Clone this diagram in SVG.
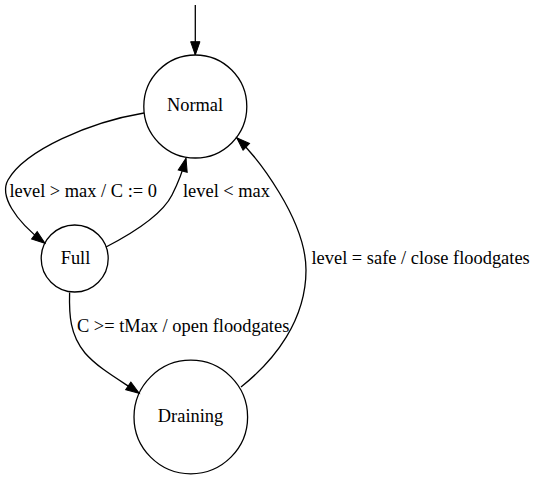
<svg xmlns="http://www.w3.org/2000/svg" width="534" height="478" viewBox="0 0 534 478">
<style>
.node circle{fill:none;stroke:#000;stroke-width:1.3}
.edge{fill:none;stroke:#000;stroke-width:1.3;marker-end:url(#arr)}
.c{text-anchor:middle}
</style>
<defs>
<marker id="arr" markerUnits="userSpaceOnUse" markerWidth="16" markerHeight="12" refX="13.3" refY="4.65" orient="auto" overflow="visible">
<path d="M0,0 L13.3,4.65 L0,9.3 z" fill="#000" stroke="#000" stroke-width="1"/>
</marker>
</defs>
<rect width="534" height="478" fill="#fff"/>
<g font-family="'Liberation Serif', 'Times New Roman', Times, 'DejaVu Serif', serif" font-size="18.4" fill="#000">
<g id="connectors">
<path class="edge" d="M195.3,5 L195.3,55"/>
<path class="edge" d="M144,113 C90,122 25,150 8,180 C-0.5,195 14,220 45,243.3"/>
<path class="edge" d="M106,247 C135,232 162,215 172,195 C177,185 183,170 186,158.3"/>
<path class="edge" d="M241,387 C275,360 306,320 306,270 C306,220 258,158 236.7,137.7"/>
<path class="edge" d="M69.6,292.5 C69,315 70,335 85,353 C98,368 118,379 139.3,393.3"/>
<text x="9.5" y="197">level &gt; max / C := 0</text>
<text x="183" y="197">level &lt; max</text>
<text x="311.5" y="264">level = safe / close floodgates</text>
<text x="77" y="332">C &gt;= tMax / open floodgates</text>
</g>
<g id="Normal" class="node">
<circle cx="195.3" cy="106.5" r="51.5"/>
<text class="c" x="195" y="111">Normal</text>
</g>
<g id="Full" class="node">
<circle cx="74.7" cy="258.5" r="33.5"/>
<text class="c" x="75.5" y="264">Full</text>
</g>
<g id="Draining" class="node">
<circle cx="190.8" cy="417" r="56.8"/>
<text class="c" x="190.5" y="421.7">Draining</text>
</g>
</g>
</svg>
